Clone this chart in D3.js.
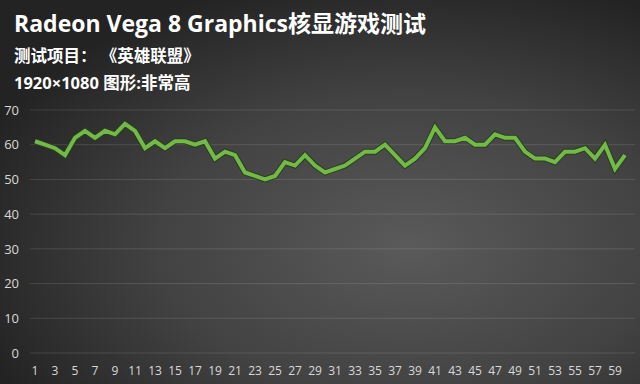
<!DOCTYPE html>
<html>
<head>
<meta charset="utf-8">
<script src="https://cdn.jsdelivr.net/npm/d3@7"></script>
<style>
  html, body { margin: 0; padding: 0; background: #2a2a2a; }
  svg { display: block; }
  text { font-family: "Open Sans", "Noto Sans CJK SC", "Noto Sans", sans-serif; }
</style>
</head>
<body>
<script>
//dims
const width = 640, height = 384;
const margin = {top: 110, right: 10, bottom: 31, left: 30};

//data
const titleText = 'Radeon Vega 8 Graphics核显游戏测试';
const subTitles = ['测试项目： 《英雄联盟》', '1920×1080 图形:非常高'];
const frames = d3.range(1, 61); // 1..60
const fps = [61, 60, 59, 57, 62, 64, 62, 64, 63, 66,
             64, 59, 61, 59, 61, 61, 60, 61, 56, 58,
             57, 52, 51, 50, 51, 55, 54, 57, 54, 52,
             53, 54, 56, 58, 58, 60, 57, 54, 56, 59,
             65, 61, 61, 62, 60, 60, 63, 62, 62, 58,
             56, 56, 55, 58, 58, 59, 56, 60, 53, 57];
const yTicks = [0, 10, 20, 30, 40, 50, 60, 70];

const svg = d3.select('body').append('svg')
    .attr('width', width)
    .attr('height', height);

//bkg gradient
const defs = svg.append('defs');
const grad = defs.append('radialGradient')
    .attr('id', 'bkg')
    .attr('cx', '0.64').attr('cy', '0.64').attr('r', '0.72');
grad.append('stop').attr('offset', '0%').attr('stop-color', '#5a5a5a');
grad.append('stop').attr('offset', '55%').attr('stop-color', '#424242');
grad.append('stop').attr('offset', '100%').attr('stop-color', '#232323');
svg.append('rect')
    .attr('width', width).attr('height', height)
    .attr('fill', 'url(#bkg)');

//scales
const x = d3.scaleBand()
    .domain(frames)
    .range([margin.left, width - margin.right]);
const y = d3.scaleLinear()
    .domain([0, 70])
    .range([height - margin.bottom, margin.top]);

//grid
svg.append('g')
  .selectAll('line')
  .data(yTicks)
  .join('line')
    .attr('x1', margin.left).attr('x2', width - 5)
    .attr('y1', d => y(d)).attr('y2', d => y(d))
    .attr('stroke', '#ffffff')
    .attr('stroke-opacity', 0.12)
    .attr('stroke-width', 1);

//y axis
const yAxis = svg.append('g')
    .attr('transform', `translate(${margin.left},0)`)
    .call(d3.axisLeft(y).tickValues(yTicks).tickSize(0).tickPadding(11));
yAxis.select('.domain').remove();
yAxis.selectAll('text')
    .attr('fill', '#d9d9d9')
    .style('font-size', '13px');

//x axis
const xAxis = svg.append('g')
    .attr('transform', `translate(0,${height - margin.bottom})`)
    .call(d3.axisBottom(x).tickValues(frames.filter(d => d % 2 === 1)).tickSize(0).tickPadding(13));
xAxis.select('.domain').remove();
xAxis.selectAll('text')
    .attr('fill', '#d9d9d9')
    .style('font-size', '12px');

//line
const line = d3.line()
    .x((d, i) => x(frames[i]) + x.bandwidth() / 2)
    .y(d => y(d));
svg.append('path')
    .datum(fps)
    .attr('fill', 'none')
    .attr('stroke', '#26401a')
    .attr('stroke-width', 6)
    .attr('stroke-linejoin', 'miter')
    .attr('d', line);
svg.append('path')
    .datum(fps)
    .attr('fill', 'none')
    .attr('stroke', '#74b84a')
    .attr('stroke-width', 4)
    .attr('stroke-linejoin', 'miter')
    .attr('d', line);

//titles
svg.append('text')
    .attr('x', 14).attr('y', 32)
    .attr('fill', '#ffffff')
    .style('font-size', '23px')
    .style('font-weight', 'bold')
    .text(titleText);
svg.selectAll('.sub')
  .data(subTitles)
  .join('text')
    .attr('class', 'sub')
    .attr('x', 14)
    .attr('y', (d, i) => 62 + i * 27)
    .attr('fill', '#ffffff')
    .style('font-size', '16.5px')
    .style('font-weight', 'bold')
    .text(d => d);
</script>
</body>
</html>
